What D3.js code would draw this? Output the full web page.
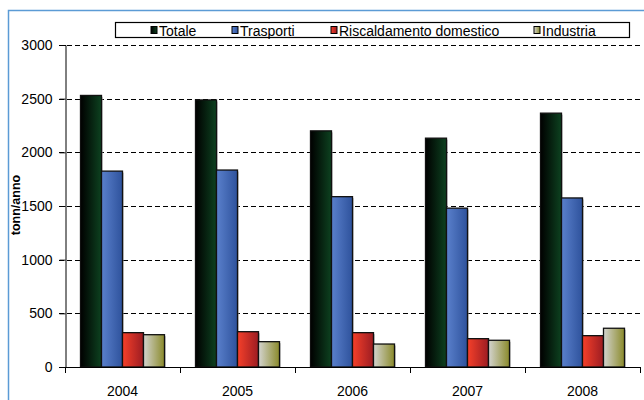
<!DOCTYPE html>
<html>
<head>
<meta charset="utf-8">
<script src="https://cdn.jsdelivr.net/npm/d3@7"></script>
<style>
  body { margin: 0; background: #fff; }
  text { font-family: Arial, "Liberation Sans", sans-serif; }
</style>
</head>
<body>
<div id="container"></div>
<script>
// Data
var years = ['2004', '2005', '2006', '2007', '2008'];
var seriesNames = ['Totale', 'Trasporti', 'Riscaldamento domestico', 'Industria'];
var totale = [2530, 2488, 2200, 2132, 2365];
var trasporti = [1825, 1835, 1587, 1480, 1575];
var riscaldamento = [320, 329, 320, 264, 292];
var industria = [301, 236, 214, 249, 361];
var yTicks = [0, 500, 1000, 1500, 2000, 2500, 3000];

var series = [totale, trasporti, riscaldamento, industria];

// gradient stops per series (left -> right)
var grads = [
  ['#000000', '#0d4220'],
  ['#5a80cc', '#2e529c'],
  ['#f5402a', '#9c1c22'],
  ['#d4d4d0', '#8a8a2a']
];

var width = 644, height = 400;
var fs = '14px';

var svg = d3.select('#container').append('svg').attr('width', width).attr('height', height);

var defs = svg.append('defs');
grads.forEach(function (g, i) {
  var lg = defs.append('linearGradient').attr('id', 'g' + i)
    .attr('x1', '0%').attr('x2', '100%').attr('y1', '0%').attr('y2', '0%');
  lg.append('stop').attr('offset', '0%').attr('stop-color', g[0]);
  lg.append('stop').attr('offset', '100%').attr('stop-color', g[1]);
});

// outer frame
svg.append('rect')
  .attr('x', 8.5).attr('y', 10.5)
  .attr('width', 640).attr('height', 400)
  .attr('fill', 'none').attr('stroke', '#5b9bd5').attr('stroke-width', 1.5);

var x = d3.scaleBand().domain(years).range([65, 640]);
var xInner = d3.scaleBand().domain(d3.range(4)).range([0, 84]);
var y = d3.scaleLinear().domain([0, 3000]).range([367, 45]);

// dashed gridlines
svg.append('g').selectAll('line').data(yTicks.slice(1)).enter().append('line')
  .attr('x1', 59).attr('x2', 640)
  .attr('y1', function (d) { return Math.round(y(d)) + 0.5; })
  .attr('y2', function (d) { return Math.round(y(d)) + 0.5; })
  .attr('stroke', '#000').attr('stroke-width', 1.2).attr('stroke-dasharray', '5,3');

// y axis
var yAxis = d3.axisLeft(y).tickValues(yTicks).tickFormat(d3.format('d')).tickSize(6).tickPadding(7);
svg.append('g').attr('transform', 'translate(65.5,0)')
  .call(yAxis)
  .call(function (g) {
    g.selectAll('text').style('font-size', fs).attr('fill', '#000');
    g.selectAll('path, line').attr('stroke', '#000');
  });

// bars
var groups = svg.append('g').selectAll('g').data(years).enter().append('g')
  .attr('transform', function (d) { return 'translate(' + (x(d) + (x.bandwidth() - 84) / 2) + ',0)'; });

groups.each(function (yr, yi) {
  var g = d3.select(this);
  series.forEach(function (s, si) {
    var bx = xInner(si), bw = xInner.bandwidth();
    // soft shadow
    g.append('rect')
      .attr('x', bx + 1.5).attr('y', y(s[yi]) + 1.5)
      .attr('width', bw).attr('height', y(0) - y(s[yi]) - 1.5)
      .attr('fill', '#999').attr('opacity', 0.5);
    g.append('rect')
      .attr('x', bx).attr('y', y(s[yi]))
      .attr('width', bw).attr('height', y(0) - y(s[yi]))
      .attr('fill', 'url(#g' + si + ')')
      .attr('stroke', '#111').attr('stroke-width', 1.3);
  });
});

// x axis
var xAxis = d3.axisBottom(x).tickSize(0).tickPadding(19);
svg.append('g').attr('transform', 'translate(0,367.5)')
  .call(xAxis)
  .call(function (g) {
    g.select('.domain').attr('stroke', '#000').attr('d', 'M59,0H640');
    g.selectAll('text').style('font-size', fs).attr('fill', '#000');
  });
// category separators
svg.append('g').selectAll('line').data(years.concat(['end'])).enter().append('line')
  .attr('x1', function (d, i) { return 65.5 + i * x.bandwidth(); })
  .attr('x2', function (d, i) { return 65.5 + i * x.bandwidth(); })
  .attr('y1', 367).attr('y2', 373)
  .attr('stroke', '#000');

// y label
svg.append('text')
  .attr('transform', 'translate(20,205) rotate(-90)')
  .attr('text-anchor', 'middle')
  .style('font-size', '12.5px').style('font-weight', 'bold')
  .text('tonn/anno');

// legend
var legend = svg.append('g');
legend.append('rect')
  .attr('x', 115.5).attr('y', 22.5).attr('width', 514).attr('height', 15)
  .attr('fill', '#fff').attr('stroke', '#000').attr('stroke-width', 1.2);
var legendX = [151, 232, 331, 534];
seriesNames.forEach(function (n, i) {
  legend.append('rect')
    .attr('x', legendX[i]).attr('y', 26.5).attr('width', 6).attr('height', 7)
    .attr('fill', 'url(#g' + i + ')').attr('stroke', '#000').attr('stroke-width', 1);
  legend.append('text')
    .attr('x', legendX[i] + 8).attr('y', 35.5)
    .style('font-size', fs)
    .text(n);
});
</script>
</body>
</html>
